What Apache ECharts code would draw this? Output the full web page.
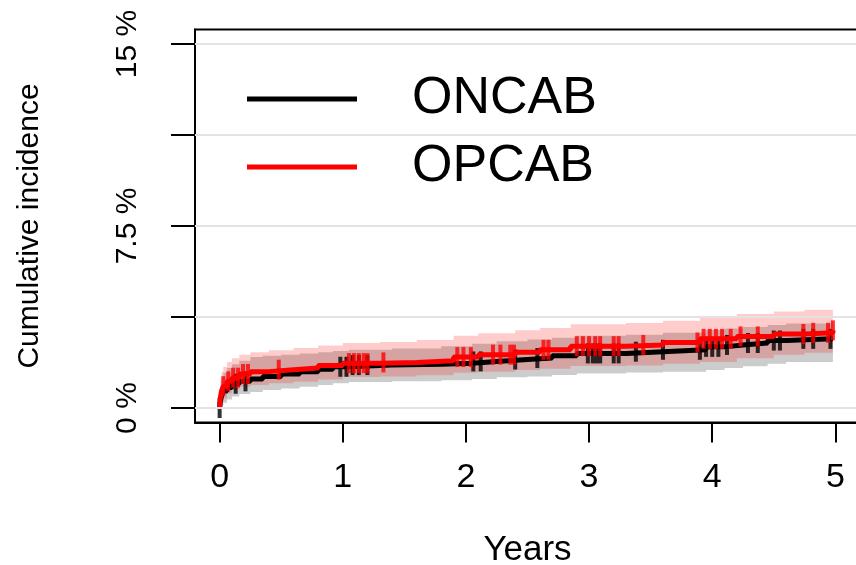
<!DOCTYPE html>
<html>
<head>
<meta charset="utf-8">
<script src="https://cdn.jsdelivr.net/npm/echarts@6/dist/echarts.min.js"></script>
<style>
html,body{margin:0;padding:0;background:#fff;}
#chart{width:856px;height:565px;}
</style>
</head>
<body>
<div id="chart"></div>
<script>
// ---- data (percent, years) ----
const seriesNames = ['ONCAB', 'OPCAB'];
const xTicks = [0, 1, 2, 3, 4, 5];
const yTicks = [0, 3.75, 7.5, 11.25, 15];
const yTickLabels = [0, 7.5, 15];

const oncabTime  = [0, 0.005, 0.015, 0.03, 0.06, 0.1, 0.16, 0.25, 0.35, 0.5, 0.65, 0.8, 0.92, 1.05, 1.4, 1.8, 2.05, 2.25, 2.5, 2.7, 2.9, 3.3, 3.6, 3.95, 4.1, 4.25, 4.45, 4.6, 4.98];
const oncabEst   = [0, 0.25, 0.5, 0.7, 0.85, 1.0, 1.1, 1.2, 1.3, 1.4, 1.5, 1.6, 1.7, 1.77, 1.8, 1.85, 1.92, 2.0, 2.06, 2.15, 2.25, 2.32, 2.4, 2.52, 2.6, 2.68, 2.78, 2.85, 2.85];
const oncabUpper = [0, 0.8, 1.2, 1.45, 1.65, 1.8, 1.95, 2.1, 2.15, 2.2, 2.25, 2.3, 2.35, 2.4, 2.45, 2.55, 2.65, 2.75, 2.82, 2.9, 2.98, 3.02, 3.1, 3.22, 3.28, 3.34, 3.42, 3.48, 3.5];
const oncabLower = [0, 0.0, 0.1, 0.22, 0.35, 0.48, 0.58, 0.66, 0.74, 0.8, 0.88, 0.95, 1.02, 1.07, 1.1, 1.14, 1.2, 1.27, 1.3, 1.36, 1.42, 1.46, 1.5, 1.57, 1.65, 1.72, 1.82, 1.9, 1.98];

const opcabTime  = [0, 0.005, 0.015, 0.03, 0.06, 0.1, 0.16, 0.25, 0.4, 0.6, 0.8, 1.0, 1.3, 1.6, 1.9, 2.1, 2.4, 2.6, 2.85, 3.3, 3.6, 3.9, 4.2, 4.5, 4.75, 4.98];
const opcabEst   = [0, 0.4, 0.7, 0.9, 1.1, 1.25, 1.4, 1.5, 1.58, 1.65, 1.75, 1.85, 1.88, 1.95, 2.1, 2.2, 2.3, 2.4, 2.55, 2.6, 2.7, 2.85, 2.95, 3.05, 3.1, 3.2];
const opcabUpper = [0, 1.1, 1.5, 1.7, 1.9, 2.05, 2.2, 2.3, 2.38, 2.47, 2.58, 2.68, 2.72, 2.8, 2.98, 3.08, 3.2, 3.3, 3.45, 3.5, 3.6, 3.75, 3.87, 3.98, 4.05, 4.24];
const opcabLower = [0, 0.05, 0.25, 0.4, 0.6, 0.75, 0.88, 0.95, 1.02, 1.08, 1.18, 1.28, 1.3, 1.35, 1.45, 1.5, 1.57, 1.62, 1.73, 1.75, 1.82, 1.9, 2.05, 2.2, 2.28, 2.39];

const oncabCensor = [0.0, 0.13, 0.21, 0.98, 1.03, 1.08, 1.13, 1.2, 2.06, 2.12, 2.4, 2.58, 2.99, 3.03, 3.06, 3.09, 3.2, 3.24, 3.38, 3.6, 3.9, 3.95, 4.0, 4.05, 4.12, 4.29, 4.37, 4.5, 4.55, 4.74, 4.82, 4.96];
const opcabCensor = [0.03, 0.07, 0.11, 0.15, 0.19, 0.23, 0.48, 1.05, 1.09, 1.13, 1.17, 1.2, 1.33, 1.93, 1.98, 2.04, 2.22, 2.28, 2.36, 2.39, 2.63, 2.67, 2.9, 2.95, 3.0, 3.05, 3.09, 3.2, 3.24, 3.44, 3.88, 3.93, 3.98, 4.03, 4.08, 4.15, 4.23, 4.37, 4.74, 4.82, 4.94, 4.98];

// ---- helpers ----
function stepAt(times, vals, t) {
  let v = vals[0];
  for (let i = 0; i < times.length; i++) { if (times[i] <= t) v = vals[i]; }
  return v;
}
const pairs = (xs, ys) => xs.map((x, i) => [x, ys[i]]);

const FONT = 'Liberation Sans';

// Step-shaped confidence band drawn as one polygon through the chart's own scales
function bandSeries(name, times, lower, upper, color) {
  return {
    name: name + '_band', type: 'custom', silent: true, z: 1, clip: true,
    data: times.map((t, i) => [t, lower[i], upper[i]]),
    encode: { x: 0, y: [1, 2] },
    renderItem: function (params, api) {
      if (params.dataIndex !== 0) return null;
      const pts = [];
      const n = times.length;
      for (let i = 0; i < n; i++) {
        if (i > 0) pts.push(api.coord([times[i], upper[i - 1]]));
        pts.push(api.coord([times[i], upper[i]]));
      }
      for (let i = n - 1; i >= 0; i--) {
        pts.push(api.coord([times[i], lower[i]]));
        if (i > 0) pts.push(api.coord([times[i], lower[i - 1]]));
      }
      return { type: 'polygon', shape: { points: pts }, style: { fill: color } };
    }
  };
}

const chart = echarts.init(document.getElementById('chart'), null, { renderer: 'canvas' });

const option = {
  animation: false,
  backgroundColor: '#fff',
  textStyle: { fontFamily: FONT },
  grid: { left: 195, top: 29.4, width: 665, height: 393.2, outerBoundsMode: 'none', containLabel: false,
    show: true, borderColor: '#000', borderWidth: 2, backgroundColor: 'transparent' },
  legend: {
    data: seriesNames,
    orient: 'vertical',
    left: 242, top: 68,
    itemWidth: 110, itemHeight: 5, itemGap: 16,
    icon: 'rect',
    selectedMode: false,
    textStyle: { fontFamily: FONT, fontSize: 52, color: '#000', padding: [0, 0, 0, 50] }
  },
  xAxis: {
    type: 'value', min: -0.2, max: 5.2,
    name: 'Years', nameLocation: 'middle', nameGap: 110,
    nameTextStyle: { fontFamily: FONT, fontSize: 35, color: '#000' },
    axisLine: { show: true, onZero: false, lineStyle: { color: '#000', width: 2 } },
    axisTick: { show: true, customValues: xTicks, length: 20, lineStyle: { color: '#000', width: 2 } },
    axisLabel: { show: true, customValues: xTicks, margin: 38, fontFamily: FONT, fontSize: 34, color: '#000' },
    splitLine: { show: false }
  },
  yAxis: {
    type: 'value', min: -0.6, max: 15.6,
    name: 'Cumulative incidence', nameLocation: 'middle', nameRotate: 90, nameGap: 150,
    nameTextStyle: { fontFamily: FONT, fontSize: 30, color: '#000' },
    axisLine: { show: true, onZero: false, lineStyle: { color: '#000', width: 2 } },
    axisTick: { show: true, customValues: yTicks, length: 24, lineStyle: { color: '#000', width: 2 } },
    axisLabel: { show: true, customValues: yTickLabels, rotate: 90, margin: 52, fontFamily: FONT, fontSize: 30, color: '#000',
      formatter: v => v + ' %' },
    splitLine: { show: false }
  },
  series: [
    { name: 'grid', type: 'line', data: [[0, 0]], symbol: 'none', lineStyle: { width: 0, opacity: 0 }, silent: true, z: 0,
      markLine: { silent: true, symbol: ['none', 'none'], label: { show: false },
        lineStyle: { color: '#e3e3e3', width: 2, type: 'solid' },
        data: yTicks.map(v => ({ yAxis: v })) } },
    bandSeries('ONCAB', oncabTime, oncabLower, oncabUpper, 'rgba(0,0,0,0.2)'),
    bandSeries('OPCAB', opcabTime, opcabLower, opcabUpper, 'rgba(255,0,0,0.2)'),
    { name: 'ONCAB', type: 'line', step: 'end', data: pairs(oncabTime, oncabEst), showSymbol: false, symbol: 'none',
      color: '#000', lineStyle: { color: '#000', width: 5 }, z: 3 },
    { name: 'ONCAB_censor', type: 'scatter', data: oncabCensor.map(t => [t, stepAt(oncabTime, oncabEst, t)]),
      symbol: 'rect', symbolSize: [4, 20], itemStyle: { color: '#000' }, z: 3 },
    { name: 'OPCAB', type: 'line', step: 'end', data: pairs(opcabTime, opcabEst), showSymbol: false, symbol: 'none',
      color: '#ff0000', lineStyle: { color: '#ff0000', width: 5 }, z: 4 },
    { name: 'OPCAB_censor', type: 'scatter', data: opcabCensor.map(t => [t, stepAt(opcabTime, opcabEst, t)]),
      symbol: 'rect', symbolSize: [4, 20], itemStyle: { color: '#ff0000' }, z: 4 }
  ]
};
chart.setOption(option);
</script>
</body>
</html>
